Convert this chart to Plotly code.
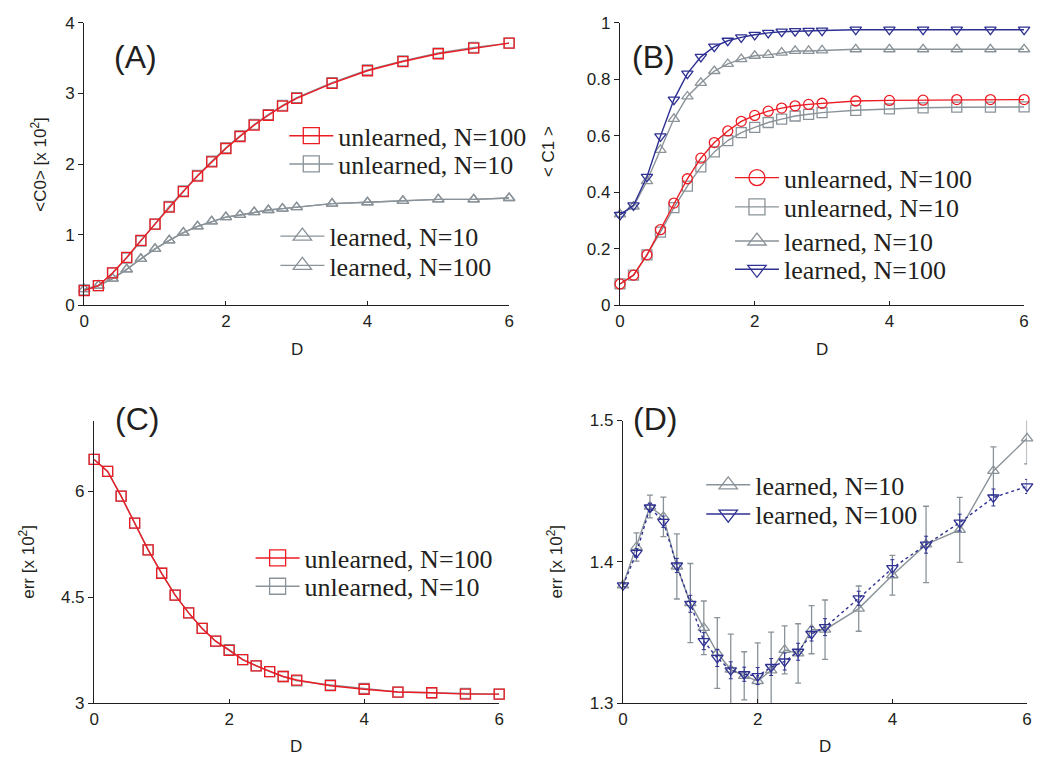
import plotly.graph_objects as go

# ---------------- data ----------------
D_vals = [0, 0.2, 0.4, 0.6, 0.8, 1.0, 1.2, 1.4, 1.6, 1.8, 2.0, 2.2, 2.4, 2.6, 2.8, 3.0,
          3.5, 4.0, 4.5, 5.0, 5.5, 6.0]

# (A) <C0> [x 10^2]
A_unl_100 = [0.21, 0.28, 0.46, 0.68, 0.92, 1.15, 1.39, 1.61, 1.83, 2.03, 2.22, 2.39, 2.55,
             2.69, 2.82, 2.93, 3.14, 3.32, 3.45, 3.56, 3.64, 3.71]
A_unl_10 = [0.22, 0.28, 0.46, 0.67, 0.91, 1.15, 1.40, 1.62, 1.84, 2.04, 2.23, 2.40, 2.56,
            2.70, 2.83, 2.94, 3.15, 3.33, 3.46, 3.57, 3.65, 3.71]
A_lrn_10 = [0.23, 0.28, 0.38, 0.51, 0.66, 0.80, 0.92, 1.03, 1.12, 1.19, 1.25, 1.28, 1.32,
            1.35, 1.37, 1.39, 1.44, 1.46, 1.48, 1.50, 1.50, 1.52]
A_lrn_100 = [0.23, 0.28, 0.38, 0.51, 0.66, 0.80, 0.92, 1.03, 1.12, 1.19, 1.25, 1.28, 1.32,
             1.35, 1.37, 1.39, 1.44, 1.46, 1.48, 1.50, 1.50, 1.52]

# (B) <C1>
B_unl_100 = [0.076, 0.107, 0.179, 0.268, 0.362, 0.448, 0.521, 0.576, 0.617, 0.651, 0.672,
             0.687, 0.698, 0.706, 0.711, 0.715, 0.723, 0.725, 0.726, 0.728, 0.728, 0.728]
B_unl_10 = [0.076, 0.107, 0.179, 0.259, 0.346, 0.422, 0.490, 0.543, 0.583, 0.611, 0.630,
            0.647, 0.659, 0.670, 0.676, 0.682, 0.690, 0.695, 0.699, 0.701, 0.701, 0.702]
B_lrn_10 = [0.322, 0.350, 0.440, 0.550, 0.660, 0.739, 0.787, 0.829, 0.854, 0.871, 0.883,
            0.886, 0.894, 0.900, 0.900, 0.902, 0.906, 0.906, 0.906, 0.906, 0.906, 0.906]
B_lrn_100 = [0.320, 0.354, 0.455, 0.598, 0.728, 0.820, 0.879, 0.915, 0.936, 0.948, 0.957,
             0.964, 0.968, 0.970, 0.971, 0.972, 0.975, 0.975, 0.975, 0.975, 0.975, 0.975]

# (C) err [x 10^2], unlearned
C_unl_100 = [6.45, 6.28, 5.93, 5.55, 5.17, 4.84, 4.53, 4.28, 4.06, 3.88, 3.75, 3.62, 3.53,
             3.45, 3.38, 3.33, 3.25, 3.20, 3.16, 3.15, 3.13, 3.13]
C_unl_10 = [6.45, 6.28, 5.93, 5.55, 5.17, 4.84, 4.53, 4.28, 4.06, 3.88, 3.76, 3.62, 3.53,
            3.45, 3.38, 3.32, 3.26, 3.21, 3.16, 3.15, 3.14, 3.13]

# (D) err [x 10^2], learned
D_lrn_10 = [1.3835, 1.4106, 1.4392, 1.4319, 1.3968, 1.3709, 1.3534, 1.3356, 1.3239, 1.3195,
            1.3158, 1.3234, 1.3378, 1.3353, 1.3521, 1.3521, 1.3670, 1.3906, 1.4124, 1.4227,
            1.4644, 1.4874]
D_lrn_10_err = [0.001, 0.010, 0.008, 0.014, 0.023, 0.028, 0.019, 0.025, 0.025, 0.017, 0.027,
                0.027, 0.017, 0.021, 0.017, 0.021, 0.016, 0.014, 0.027, 0.023, 0.017, 0.018]
D_lrn_100 = [1.3835, 1.4064, 1.4385, 1.4284, 1.3975, 1.3704, 1.3440, 1.3321, 1.3234, 1.3206,
             1.3193, 1.3257, 1.3296, 1.3365, 1.3491, 1.3539, 1.3743, 1.3956, 1.4122, 1.4278,
             1.4456, 1.4534]
D_lrn_100_err = [0.001, 0.003, 0.003, 0.004, 0.005, 0.006, 0.006, 0.006, 0.006, 0.005, 0.006,
                 0.006, 0.006, 0.006, 0.005, 0.006, 0.005, 0.006, 0.006, 0.006, 0.006, 0.005]

x_ticks = [0, 2, 4, 6]

RED = "#EC1C24"
GREY = "#8A9399"
BLUE = "#2E3192"
INK = "#231F20"

fig = go.Figure()


def add_series(xa, ya, y, color, symbol, dash="solid", err=None, errcolor=None,
               errthick=1.3, errwidth=3):
    tr = dict(x=D_vals, y=y, mode="lines+markers", xaxis=xa, yaxis=ya,
              line=dict(color=color, width=1.4, dash=dash),
              marker=dict(symbol=symbol, size=10, color=color,
                          line=dict(color=color, width=1.3)),
              showlegend=False, cliponaxis=False)
    if err is not None:
        tr["error_y"] = dict(type="data", array=err, visible=True,
                             color=errcolor or color, thickness=errthick, width=errwidth)
    fig.add_trace(go.Scatter(**tr))


def add_legend_item(xa, ya, name, color, symbol, legend_id):
    fig.add_trace(go.Scatter(x=[None], y=[None], mode="lines+markers", name=name,
                             xaxis=xa, yaxis=ya, legend=legend_id,
                             line=dict(color=color, width=1.4),
                             marker=dict(symbol=symbol, size=16, color=color,
                                         line=dict(color=color, width=1.3))))


# Panel A
add_series("x", "y", A_lrn_100, GREY, "triangle-up-open")
add_series("x", "y", A_lrn_10, GREY, "triangle-up-open")
add_series("x", "y", A_unl_10, GREY, "square-open")
add_series("x", "y", A_unl_100, RED, "square-open")
# Panel B
add_series("x2", "y2", B_unl_10, GREY, "square-open")
add_series("x2", "y2", B_unl_100, RED, "circle-open")
add_series("x2", "y2", B_lrn_10, GREY, "triangle-up-open")
add_series("x2", "y2", B_lrn_100, BLUE, "triangle-down-open")
# Panel C
add_series("x3", "y3", C_unl_10, GREY, "square-open")
add_series("x3", "y3", C_unl_100, RED, "square-open")
# Panel D
add_series("x4", "y4", D_lrn_10, GREY, "triangle-up-open", err=D_lrn_10_err)
add_series("x4", "y4", D_lrn_100, BLUE, "triangle-down-open", dash="dot",
           err=D_lrn_100_err, errthick=1.0, errwidth=2)

W, H = 1040, 767

# legend entries: (axes, name, color, symbol, line-start px, center-y px)
legend_specs = [
    ("x", "y", "unlearned, N=100", RED, "square-open", 287, 130),
    ("x", "y", "unlearned, N=10", GREY, "square-open", 287, 159),
    ("x", "y", "learned, N=10", GREY, "triangle-up-open", 278, 233),
    ("x", "y", "learned, N=100", GREY, "triangle-up-open", 278, 263),
    ("x2", "y2", "unlearned, N=100", RED, "circle-open", 737, 173),
    ("x2", "y2", "unlearned, N=10", GREY, "square-open", 737, 203),
    ("x2", "y2", "learned, N=10", GREY, "triangle-up-open", 737, 238),
    ("x2", "y2", "learned, N=100", BLUE, "triangle-down-open", 737, 267),
    ("x3", "y3", "unlearned, N=100", RED, "square-open", 253, 563),
    ("x3", "y3", "unlearned, N=10", GREY, "square-open", 253, 592),
    ("x4", "y4", "learned, N=10", GREY, "triangle-up-open", 708, 488),
    ("x4", "y4", "learned, N=100", BLUE, "triangle-down-open", 708, 518),
]

layout_legends = {}
for i, (xa, ya, name, color, symbol, lx, ly) in enumerate(legend_specs):
    lid = "legend" if i == 0 else f"legend{i + 1}"
    add_legend_item(xa, ya, name, color, symbol, lid)
    layout_legends[lid] = dict(
        x=(lx - 5) / W, y=1 - ly / H, xanchor="left", yanchor="middle",
        bgcolor="rgba(0,0,0,0)", borderwidth=0, itemwidth=44,
        font=dict(family="Liberation Serif, Times New Roman, serif", size=26, color=INK),
        itemclick=False, itemdoubleclick=False,
    )

TICKFONT = dict(family="Liberation Sans, Arial, sans-serif", size=17, color=INK)


def xaxis(domain, anchor):
    return dict(domain=domain, anchor=anchor, range=[0, 6], tickvals=x_ticks,
                showline=True, linecolor=INK, linewidth=1.3, ticks="inside", ticklen=4,
                tickcolor=INK, showgrid=False, zeroline=False, tickfont=TICKFONT)


def yaxis(domain, anchor, rng, tickvals, ticktext):
    return dict(domain=domain, anchor=anchor, range=rng, tickvals=tickvals, ticktext=ticktext,
                showline=True, linecolor=INK, linewidth=1.3, ticks="outside", ticklen=5,
                tickcolor=INK, showgrid=False, zeroline=False, tickfont=TICKFONT)


top = [1 - 304 / H, 1 - 14 / H]
bot = [1 - 712 / H, 1 - 422 / H]

layout = dict(
    width=W, height=H, margin=dict(l=0, r=0, t=0, b=0),
    paper_bgcolor="white", plot_bgcolor="white",
    xaxis=xaxis([80 / W, 509 / W], "y"),
    yaxis=yaxis(top, "x", [0, 4], [0, 1, 2, 3, 4], ["0", "1", "2", "3", "4"]),
    xaxis2=xaxis([621 / W, 1029 / W], "y2"),
    yaxis2=yaxis(top, "x2", [0, 1], [0, 0.2, 0.4, 0.6, 0.8, 1.0],
                 ["0", "0.2", "0.4", "0.6", "0.8", "1"]),
    xaxis3=xaxis([90 / W, 499 / W], "y3"),
    yaxis3=yaxis(bot, "x3", [3, 7], [3, 4.5, 6], ["3", "4.5", "6"]),
    xaxis4=xaxis([624 / W, 1032 / W], "y4"),
    yaxis4=yaxis(bot, "x4", [1.3, 1.5], [1.3, 1.4, 1.5], ["1.3", "1.4", "1.5"]),
)
layout.update(layout_legends)


def ann(text, px, py, size, angle=0, family="Liberation Sans, Arial, sans-serif"):
    return dict(text=text, x=px / W, y=1 - py / H, xref="paper", yref="paper",
                showarrow=False, xanchor="center", yanchor="middle", textangle=angle,
                font=dict(family=family, size=size, color=INK))


annotations = [
    ann("(A)", 132, 49, 32),
    ann("(B)", 655, 49, 32),
    ann("(C)", 133, 420, 32),
    ann("(D)", 656, 420, 32),
    ann("D", 295, 349, 17),
    ann("D", 825, 349, 17),
    ann("D", 294, 756, 17),
    ann("D", 828, 756, 17),
    ann("&lt;C0&gt; [x 10<sup>2</sup>]", 34, 159, 17, angle=-90),
    ann("&lt; C1 &gt;", 549, 146, 17, angle=-90),
    ann("err [x 10<sup>2</sup>]", 22, 567, 17, angle=-90),
    ann("err [x 10<sup>2</sup>]", 555, 567, 17, angle=-90),
]
layout["annotations"] = annotations

fig.update_layout(**layout)
fig.write_html("out.html")
